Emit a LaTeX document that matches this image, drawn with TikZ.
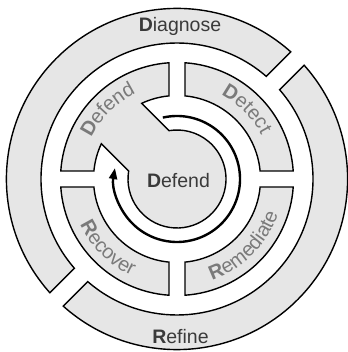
\documentclass[tikz,border=0pt]{standalone}
\usepackage{fontspec}
\setmainfont{Liberation Sans}
\usetikzlibrary{decorations.text,arrows.meta}
\definecolor{ringfill}{HTML}{E6E6E6}
\definecolor{midtext}{HTML}{7A7A7A}
\definecolor{darktext}{HTML}{3A3A3A}
\newcommand\midlbl{\fontsize{20}{24}\selectfont\color{midtext}}
\tikzset{
  segment/.style={draw=black, fill=ringfill, line width=1.4pt, line join=miter},
  bigtext/.style={font=\fontsize{19.5}{23}\selectfont, text=darktext, inner sep=0pt},
  cycle arrow/.style={line width=2.4pt, -{Triangle[length=11pt,width=8pt]}},
  arclabel/.style={decorate, decoration={text along path, text align=center, text={#1}}}
}
\begin{document}
\begin{tikzpicture}[x=1pt,y=1pt]
\useasboundingbox (-177,-173) rectangle (170,179);
\pgfmathsetmacro\Ra{83.5}
\pgfmathsetmacro\Rb{116.5}
\pgfmathsetmacro\Rc{136}
\pgfmathsetmacro\Rd{170.6}
\pgfmathsetmacro\rD{49}
\pgfmathsetmacro\aO{asin(8/\Rb)}
\pgfmathsetmacro\aI{asin(8/\Ra)}
\pgfmathsetmacro\bI{asin(28.6/\Ra)}
\pgfmathsetmacro\bD{asin(28.6/\rD)}
\pgfmathsetmacro\cO{asin(9.5/\Rd)}
\pgfmathsetmacro\cI{asin(9.5/\Rc)}
% outer ring
\draw[segment] ({45+\cO}:\Rd) arc[start angle=45+\cO, end angle=225-\cO, radius=\Rd]
  -- ({225-\cI}:\Rc) arc[start angle=225-\cI, end angle=45+\cI, radius=\Rc] -- cycle;
\draw[segment] ({225+\cO}:\Rd) arc[start angle=225+\cO, end angle=405-\cO, radius=\Rd]
  -- ({405-\cI}:\Rc) arc[start angle=405-\cI, end angle=225+\cI, radius=\Rc] -- cycle;
% middle ring: three plain quarters
\foreach \q in {0,180,270}{
  \draw[segment] ({\q+\aO}:\Rb) arc[start angle=\q+\aO, end angle=\q+90-\aO, radius=\Rb]
    -- ({\q+90-\aI}:\Ra) arc[start angle=\q+90-\aI, end angle=\q+\aI, radius=\Ra] -- cycle;
}
% Defend quarter joined with the centre disc
\draw[segment] ({90+\aO}:\Rb) arc[start angle=90+\aO, end angle=180-\aO, radius=\Rb]
  -- ({180-\aI}:\Ra) arc[start angle=180-\aI, end angle=135+\bI, radius=\Ra]
  -- ({135+\bD}:\rD) arc[start angle=135+\bD, end angle=495-\bD, radius=\rD]
  -- ({135-\bI}:\Ra) arc[start angle=135-\bI, end angle=90+\aI, radius=\Ra] -- cycle;
% cycle arrow
\draw[cycle arrow] (103:63) arc[start angle=103, end angle=-190, radius=63];
% curved labels
\path[arclabel={|\midlbl\bfseries|D|\midlbl|efend}] (190:95) arc[start angle=190, end angle=80, radius=95];
\path[arclabel={|\midlbl\bfseries|D|\midlbl|etect}] (100:95) arc[start angle=100, end angle=-10, radius=95];
\path[arclabel={|\midlbl\bfseries|R|\midlbl|emediate}] (-100:107) arc[start angle=-100, end angle=10, radius=107];
\path[arclabel={|\midlbl\bfseries|R|\midlbl|ecover}] (-190:107) arc[start angle=-190, end angle=-80, radius=107];
% straight labels
\node[bigtext] (diag) at (3,153) {\textbf{D}iagnose};
\node[bigtext] (refine) at (3.5,-158) {\textbf{R}efine};
\node[bigtext] (centre) at (1.5,-2) {\textbf{D}efend};
\end{tikzpicture}
\end{document}
